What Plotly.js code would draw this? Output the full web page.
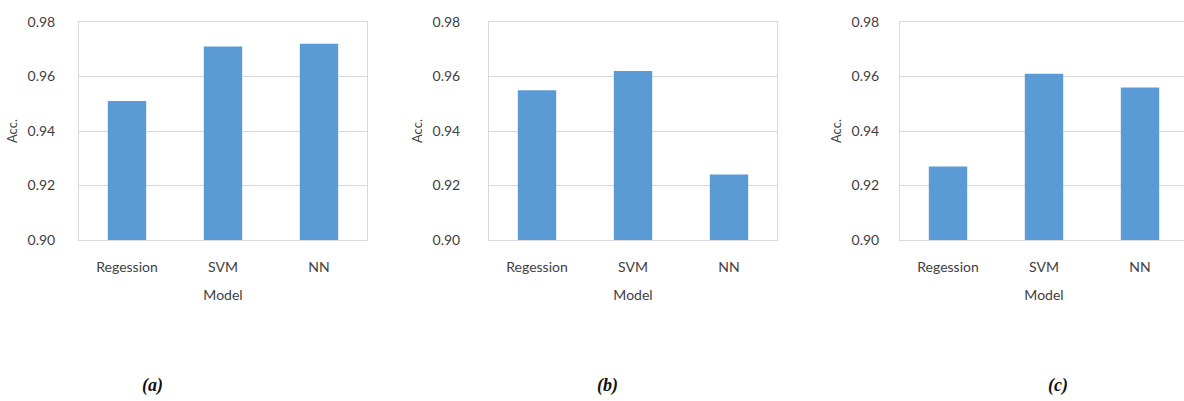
<!DOCTYPE html>
<html>
<head>
<meta charset="utf-8">
<script src="https://cdn.plot.ly/plotly-3.0.1.min.js"></script>
<style>
html,body{margin:0;padding:0;overflow:hidden;background:#fff;}
#chart{width:1190px;height:401px;}
</style>
</head>
<body>
<div id="chart"></div>
<script>
const models = ["Regession", "SVM", "NN"];
const accA = [0.951, 0.971, 0.972];
const accB = [0.955, 0.962, 0.924];
const accC = [0.927, 0.961, 0.956];
const yTicks = [0.90, 0.92, 0.94, 0.96, 0.98];
const captions = ["(a)", "(b)", "(c)"];

const W = 1190, H = 401;
const barColor = "#5b9bd5";
const fontFam = "Lato, 'Open Sans', sans-serif";
const txtColor = "#404040";

function bar(y, xa, ya) {
  return {type: "bar", x: models, y: y, xaxis: xa, yaxis: ya,
          marker: {color: barColor}, hoverinfo: "skip", showlegend: false};
}

const yDom = [1 - 240 / H, 1 - 22 / H];
function xAx(l, r) {
  return {
    domain: [l / W, r / W], showgrid: false, zeroline: false,
    showline: true, mirror: true, linecolor: "#d9d9d9", linewidth: 1,
    ticks: "", ticklabelstandoff: 14,
    tickfont: {family: fontFam, size: 14, color: txtColor},
    title: {text: "Model", font: {family: fontFam, size: 14, color: txtColor}, standoff: 16},
    fixedrange: true
  };
}
function yAx(anchor, standoff, titleStandoff) {
  return {
    domain: yDom, anchor: anchor, range: [0.9, 0.98], tickvals: yTicks,
    tickformat: ".2f", showgrid: true, gridcolor: "#d9d9d9", gridwidth: 1,
    zeroline: false, showline: true, mirror: true, linecolor: "#d9d9d9",
    ticks: "", ticklabelstandoff: standoff,
    tickfont: {family: fontFam, size: 14, color: txtColor},
    title: {text: "Acc.", font: {family: fontFam, size: 13, color: txtColor}, standoff: titleStandoff},
    fixedrange: true
  };
}

const data = [bar(accA, "x", "y"), bar(accB, "x2", "y2"), bar(accC, "x3", "y3")];

const capX = [152, 607, 1058];
const annotations = captions.map((c, i) => ({
  text: "<b><i>" + c + "</i></b>", xref: "paper", yref: "paper",
  x: capX[i] / W, y: 1 - 385 / H, showarrow: false,
  xanchor: "center", yanchor: "middle",
  font: {family: "'Liberation Serif', 'DejaVu Serif', serif", size: 18, color: "#111"}
}));

const layout = {
  width: W, height: H, margin: {l: 0, r: 0, t: 0, b: 0},
  paper_bgcolor: "#fff", plot_bgcolor: "#fff", bargap: 0.6,
  xaxis: Object.assign(xAx(79, 367), {anchor: "y"}),
  xaxis2: Object.assign(xAx(489, 777), {anchor: "y2"}),
  xaxis3: Object.assign(xAx(900, 1188), {anchor: "y3"}),
  yaxis: yAx("x", 20, 6),
  yaxis2: yAx("x2", 25, 6),
  yaxis3: yAx("x3", 17, 6),
  annotations: annotations
};

Plotly.newPlot("chart", data, layout, {displayModeBar: false, staticPlot: true});
</script>
</body>
</html>
